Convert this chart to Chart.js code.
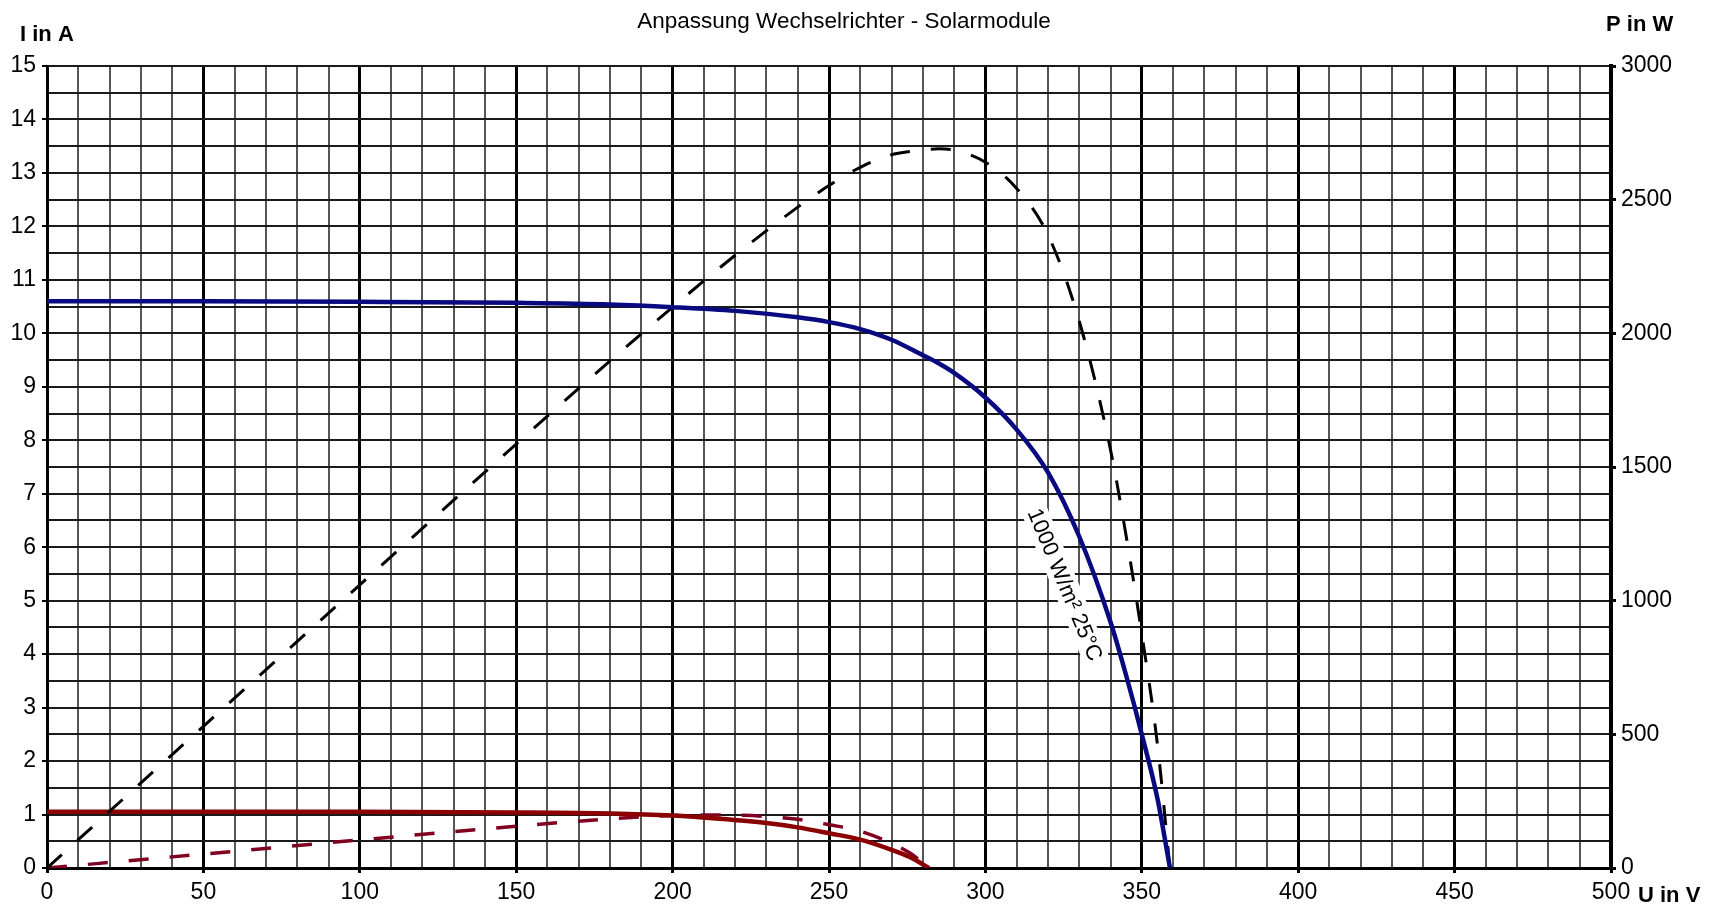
<!DOCTYPE html>
<html>
<head>
<meta charset="utf-8">
<title>Anpassung Wechselrichter - Solarmodule</title>
<script src="https://cdn.jsdelivr.net/npm/chart.js@4/dist/chart.umd.min.js"></script>
<style>
    body { margin: 0; background: #fff; }
    canvas { display: block; }
</style>
</head>
<body>
<canvas id="kennlinie" width="1713" height="907"></canvas>
<script>
// Kennlinie 1000 W/m² 25°C (Spannung in V, Strom in A, Leistung in W)
const uHigh = [0, 50, 100, 150, 180, 200, 220, 240, 250, 260, 270, 280, 285, 290, 300, 310, 320, 330, 340, 345, 350, 355, 359];
const iHigh = [10.6, 10.6, 10.59, 10.57, 10.54, 10.49, 10.42, 10.3, 10.21, 10.08, 9.88, 9.59, 9.44, 9.26, 8.8, 8.2, 7.4, 6.2, 4.6, 3.6, 2.5, 1.3, 0];
const pHigh = [0, 530, 1059, 1586, 1897, 2098, 2292, 2472, 2553, 2621, 2668, 2685, 2690, 2685, 2640, 2542, 2368, 2046, 1564, 1242, 875, 462, 0];

// Kennlinie bei schwacher Einstrahlung
const uLow = [0, 50, 100, 150, 180, 200, 215, 230, 240, 250, 260, 270, 276, 282];
const iLow = [1.05, 1.05, 1.05, 1.04, 1.02, 0.98, 0.92, 0.84, 0.76, 0.65, 0.53, 0.34, 0.2, 0];
const pLow = [0, 52, 105, 156, 184, 196, 198, 193, 182, 162, 138, 92, 55, 0];

// Achsenbeschriftungen
const uLabels = [0, 50, 100, 150, 200, 250, 300, 350, 400, 450, 500];
const iLabels = [0, 1, 2, 3, 4, 5, 6, 7, 8, 9, 10, 11, 12, 13, 14, 15];
const pLabels = [0, 500, 1000, 1500, 2000, 2500, 3000];

const curveLabel = '1000 W/m² 25°C';
const curveLabelAt = [325.5, 5.3];

const FONT = '"Liberation Sans", Arial, sans-serif';

const toPoints = (xs, ys) => xs.map((x, k) => ({ x: x, y: ys[k] }));

// Texte ausserhalb der Achsen + Kurvenbeschriftung
const beschriftung = {
    id: 'beschriftung',
    beforeDatasetsDraw(chart) {
        const ctx = chart.ctx;
        const px = chart.scales.x.getPixelForValue(curveLabelAt[0]);
        const py = chart.scales.i.getPixelForValue(curveLabelAt[1]);
        ctx.save();
        ctx.translate(px, py);
        ctx.rotate(67.4 * Math.PI / 180);
        ctx.font = '22px ' + FONT;
        const w = ctx.measureText(curveLabel).width;
        ctx.fillStyle = '#fff';
        ctx.fillRect(-w / 2 - 3, -13, w + 6, 26);
        ctx.fillStyle = '#000';
        ctx.textAlign = 'center';
        ctx.textBaseline = 'middle';
        ctx.fillText(curveLabel, 0, 1);
        ctx.restore();
    },
    afterDraw(chart) {
        const ctx = chart.ctx;
        ctx.save();
        ctx.fillStyle = '#000';
        ctx.textBaseline = 'middle';

        ctx.font = '22.5px ' + FONT;
        ctx.textAlign = 'center';
        ctx.fillText('Anpassung Wechselrichter - Solarmodule', 844, 22);

        ctx.font = 'bold 22px ' + FONT;
        ctx.textAlign = 'left';
        ctx.fillText('I in A', 20, 35);
        ctx.fillText('P in W', 1606, 25);
        ctx.fillText('U in V', 1638, 896);
        ctx.restore();
    }
};

const ctx = document.getElementById('kennlinie').getContext('2d');
new Chart(ctx, {
    type: 'line',
    data: {
        datasets: [
            {
                label: 'I 1000 W/m²',
                data: toPoints(uHigh, iHigh),
                yAxisID: 'i',
                borderColor: '#0a0a80',
                borderWidth: 4.5
            },
            {
                label: 'P 1000 W/m²',
                data: toPoints(uHigh, pHigh),
                yAxisID: 'p',
                borderColor: '#000',
                borderWidth: 3,
                borderDash: [20, 21]
            },
            {
                label: 'I schwach',
                data: toPoints(uLow, iLow),
                yAxisID: 'i',
                borderColor: '#8b0000',
                borderWidth: 4.5
            },
            {
                label: 'P schwach',
                data: toPoints(uLow, pLow),
                yAxisID: 'p',
                borderColor: '#800020',
                borderWidth: 3.5,
                borderDash: [20, 21]
            }
        ]
    },
    options: {
        responsive: false,
        devicePixelRatio: 1,
        animation: false,
        elements: {
            point: { radius: 0 },
            line: { cubicInterpolationMode: 'monotone', fill: false, borderCapStyle: 'butt' }
        },
        layout: { padding: { top: 66, left: 0, right: 0, bottom: 0 } },
        plugins: {
            legend: { display: false },
            title: { display: false },
            tooltip: { enabled: false }
        },
        scales: {
            x: {
                type: 'linear',
                position: 'bottom',
                min: 0,
                max: 500,
                afterFit: (scale) => { scale.height = 39; },
                ticks: {
                    stepSize: 10,
                    autoSkip: false,
                    maxRotation: 0,
                    minRotation: 0,
                    padding: 6,
                    color: '#000',
                    font: { family: FONT, size: 23 },
                    callback: (v) => uLabels.includes(v) ? String(v) : ''
                },
                grid: {
                    color: (c) => c.tick && c.tick.value % 50 === 0 ? '#000' : '#555',
                    lineWidth: (c) => c.tick && c.tick.value % 50 === 0 ? 3 : 2,
                    tickLength: 5,
                    tickColor: (c) => c.tick && c.tick.value % 50 === 0 ? '#000' : 'rgba(0,0,0,0)'
                },
                border: { display: true, color: '#000', width: 3 }
            },
            i: {
                type: 'linear',
                position: 'left',
                min: 0,
                max: 15,
                afterFit: (scale) => { scale.width = 47; },
                ticks: {
                    stepSize: 0.5,
                    autoSkip: false,
                    padding: 6,
                    color: '#000',
                    font: { family: FONT, size: 23 },
                    callback: (v) => iLabels.includes(v) ? String(v) : ''
                },
                grid: {
                    color: '#1a1a1a',
                    lineWidth: 2,
                    tickLength: 5,
                    tickColor: (c) => c.tick && Number.isInteger(c.tick.value) ? '#000' : 'rgba(0,0,0,0)'
                },
                border: { display: true, color: '#000', width: 3 }
            },
            p: {
                type: 'linear',
                position: 'right',
                min: 0,
                max: 3000,
                afterFit: (scale) => { scale.width = 102; },
                ticks: {
                    stepSize: 500,
                    autoSkip: false,
                    padding: 5,
                    color: '#000',
                    font: { family: FONT, size: 23 },
                    callback: (v) => pLabels.includes(v) ? String(v) : ''
                },
                grid: {
                    drawOnChartArea: false,
                    tickLength: 5,
                    tickColor: '#000',
                    lineWidth: 3
                },
                border: { display: true, color: '#000', width: 4 }
            }
        }
    },
    plugins: [beschriftung]
});
</script>
</body>
</html>
